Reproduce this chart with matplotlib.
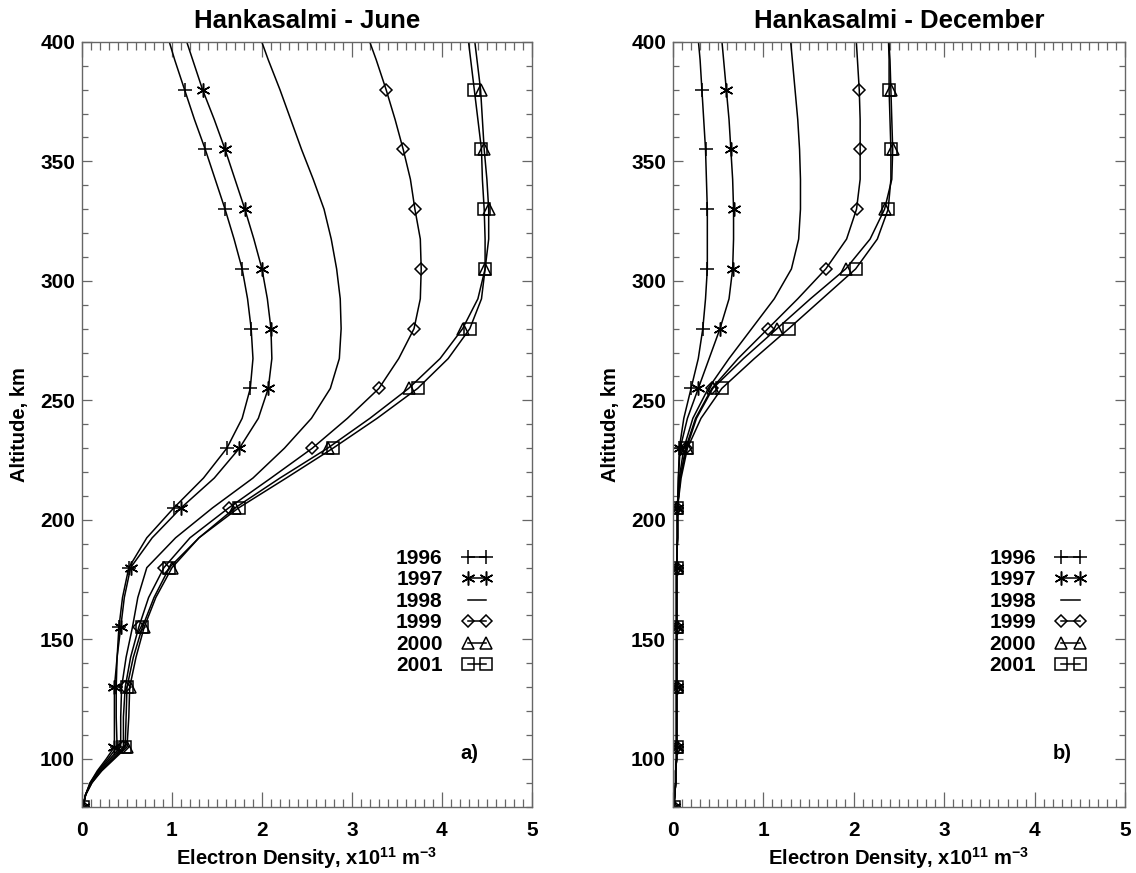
import matplotlib
matplotlib.use('Agg')
import matplotlib.pyplot as plt
from matplotlib.ticker import MultipleLocator

plt.rcParams['font.family'] = ['Liberation Sans', 'DejaVu Sans']
plt.rcParams['font.weight'] = 'bold'
plt.rcParams['mathtext.fontset'] = 'custom'
plt.rcParams['mathtext.rm'] = 'Liberation Sans:bold'
plt.rcParams['mathtext.bf'] = 'Liberation Sans:bold'
plt.rcParams['mathtext.default'] = 'bf'

years = ['1996', '1997', '1998', '1999', '2000', '2001']

# altitude grid (km); markers every 25 km from 80 to 380
alt = [80, 85, 90, 95, 100, 105, 117.5, 130, 142.5, 155, 167.5, 180, 192.5, 205,
       217.5, 230, 242.5, 255, 267.5, 280, 292.5, 305, 317.5, 330, 342.5, 355,
       367.5, 380, 392.5, 405]
mark_alt = [80, 105, 130, 155, 180, 205, 230, 255, 280, 305, 330, 355, 380]

# June, electron density x10^11 m^-3
jun_1996 = [0.01, 0.04, 0.09, 0.18, 0.29, 0.39, 0.38, 0.38, 0.39, 0.41, 0.45, 0.52, 0.72, 1.02,
            1.35, 1.61, 1.78, 1.87, 1.90, 1.88, 1.84, 1.78, 1.69, 1.59, 1.48, 1.37, 1.25, 1.14, 1.03, 0.93]
jun_1997 = [0.01, 0.04, 0.09, 0.17, 0.27, 0.36, 0.36, 0.36, 0.39, 0.43, 0.47, 0.54, 0.78, 1.10,
            1.47, 1.75, 1.96, 2.07, 2.11, 2.10, 2.06, 2.00, 1.91, 1.81, 1.70, 1.59, 1.47, 1.34, 1.23, 1.12]
jun_1998 = [0.01, 0.04, 0.10, 0.19, 0.31, 0.43, 0.43, 0.44, 0.49, 0.56, 0.62, 0.72, 1.04, 1.45,
            1.90, 2.25, 2.55, 2.76, 2.86, 2.88, 2.87, 2.83, 2.77, 2.69, 2.57, 2.44, 2.32, 2.20, 2.07, 1.95]
jun_1999 = [0.01, 0.04, 0.10, 0.20, 0.33, 0.46, 0.46, 0.48, 0.54, 0.63, 0.74, 0.91, 1.20, 1.63,
            2.10, 2.56, 2.95, 3.30, 3.52, 3.69, 3.76, 3.77, 3.76, 3.70, 3.65, 3.57, 3.48, 3.38, 3.27, 3.15]
jun_2000 = [0.01, 0.04, 0.11, 0.22, 0.36, 0.50, 0.52, 0.53, 0.60, 0.69, 0.82, 1.00, 1.30, 1.70,
            2.20, 2.73, 3.20, 3.63, 3.98, 4.23, 4.40, 4.48, 4.52, 4.52, 4.50, 4.47, 4.45, 4.43, 4.39, 4.35]
jun_2001 = [0.01, 0.04, 0.11, 0.21, 0.35, 0.48, 0.49, 0.50, 0.57, 0.67, 0.80, 0.97, 1.30, 1.74,
            2.27, 2.79, 3.28, 3.73, 4.07, 4.31, 4.44, 4.48, 4.48, 4.47, 4.45, 4.44, 4.40, 4.36, 4.32, 4.28]

# December
dec_1996 = [0.01, 0.02, 0.03, 0.03, 0.04, 0.04, 0.04, 0.04, 0.04, 0.04, 0.04, 0.04, 0.05, 0.05,
            0.06, 0.07, 0.12, 0.20, 0.28, 0.33, 0.36, 0.38, 0.38, 0.38, 0.37, 0.36, 0.34, 0.32, 0.30, 0.27]
dec_1997 = [0.01, 0.02, 0.03, 0.03, 0.04, 0.04, 0.04, 0.04, 0.04, 0.04, 0.04, 0.04, 0.05, 0.05,
            0.06, 0.08, 0.16, 0.28, 0.40, 0.52, 0.62, 0.66, 0.67, 0.67, 0.66, 0.64, 0.62, 0.59, 0.56, 0.53]
dec_1998 = [0.01, 0.02, 0.03, 0.03, 0.04, 0.04, 0.04, 0.04, 0.04, 0.04, 0.04, 0.04, 0.05, 0.05,
            0.07, 0.12, 0.22, 0.39, 0.62, 0.87, 1.12, 1.31, 1.39, 1.41, 1.41, 1.40, 1.38, 1.35, 1.32, 1.29]
dec_1999 = [0.01, 0.02, 0.03, 0.03, 0.04, 0.04, 0.04, 0.04, 0.04, 0.04, 0.04, 0.04, 0.05, 0.05,
            0.08, 0.14, 0.25, 0.43, 0.72, 1.05, 1.38, 1.69, 1.92, 2.03, 2.07, 2.07, 2.07, 2.06, 2.04, 2.02]
dec_2000 = [0.01, 0.02, 0.03, 0.03, 0.04, 0.04, 0.04, 0.04, 0.04, 0.04, 0.04, 0.04, 0.05, 0.05,
            0.08, 0.15, 0.26, 0.44, 0.78, 1.15, 1.52, 1.91, 2.18, 2.34, 2.42, 2.43, 2.42, 2.41, 2.40, 2.38]
dec_2001 = [0.01, 0.02, 0.03, 0.03, 0.04, 0.04, 0.04, 0.04, 0.04, 0.04, 0.04, 0.04, 0.05, 0.05,
            0.09, 0.16, 0.31, 0.54, 0.90, 1.28, 1.65, 2.02, 2.26, 2.38, 2.41, 2.41, 2.40, 2.39, 2.39, 2.38]

june = [jun_1996, jun_1997, jun_1998, jun_1999, jun_2000, jun_2001]
december = [dec_1996, dec_1997, dec_1998, dec_1999, dec_2000, dec_2001]

markers = ['+', (6, 2, 0), None, 'D', '^', 's']
msizes = [10, 10, 0, 6.5, 8, 8]
mark_idx = [alt.index(a) for a in mark_alt]


def draw(ax, series, title, tag):
    for yr, xs, mk, ms in zip(years, series, markers, msizes):
        if mk is None:
            ax.plot(xs, alt, color='black', lw=1.1, label=yr)
        else:
            ax.plot(xs, alt, color='black', lw=1.1, marker=mk, markevery=mark_idx,
                    ms=ms, mfc='none', mec='black', mew=1.1, label=yr)
    ax.set_xlim(0, 5)
    ax.set_ylim(80, 400)
    ax.xaxis.set_major_locator(MultipleLocator(1))
    ax.xaxis.set_minor_locator(MultipleLocator(0.1))
    ax.set_yticks([100, 150, 200, 250, 300, 350, 400])
    ax.yaxis.set_minor_locator(MultipleLocator(10))
    ax.tick_params(which='both', direction='in', top=True, right=True, color='#666666',
                   labelsize=15, width=0.9)
    ax.tick_params(axis='x', which='major', length=11, pad=10)
    ax.tick_params(axis='x', which='minor', length=5.5)
    ax.tick_params(axis='y', which='major', length=7, pad=5)
    ax.tick_params(axis='y', which='minor', length=4)
    for s in ax.spines.values():
        s.set_color('#666666')
        s.set_linewidth(1.0)
    ax.set_title(title, fontsize=18.5, fontweight='bold', pad=10)
    ax.set_xlabel(r'Electron Density, x10$^{11}$ m$^{-3}$', fontsize=14.5, fontweight='bold',
                  labelpad=4)
    ax.set_ylabel('Altitude, km', fontsize=14.5, fontweight='bold', labelpad=8)
    ax.legend(loc='upper right', bbox_to_anchor=(0.913, 0.337), frameon=False,
              markerfirst=False, numpoints=2, handlelength=1.5, handletextpad=0.9,
              labelspacing=0.12, fontsize=15, borderpad=0, borderaxespad=0)
    ax.text(0.86, 0.07, tag, transform=ax.transAxes, fontsize=14.5, fontweight='bold',
            ha='center', va='center')


fig = plt.figure(figsize=(11.36, 8.73), dpi=100)
ax1 = fig.add_axes([0.0722, 0.076, 0.396, 0.876])
ax2 = fig.add_axes([0.5924, 0.076, 0.398, 0.876])
draw(ax1, june, 'Hankasalmi - June', 'a)')
draw(ax2, december, 'Hankasalmi - December', 'b)')

fig.savefig('out.png', dpi=100)
